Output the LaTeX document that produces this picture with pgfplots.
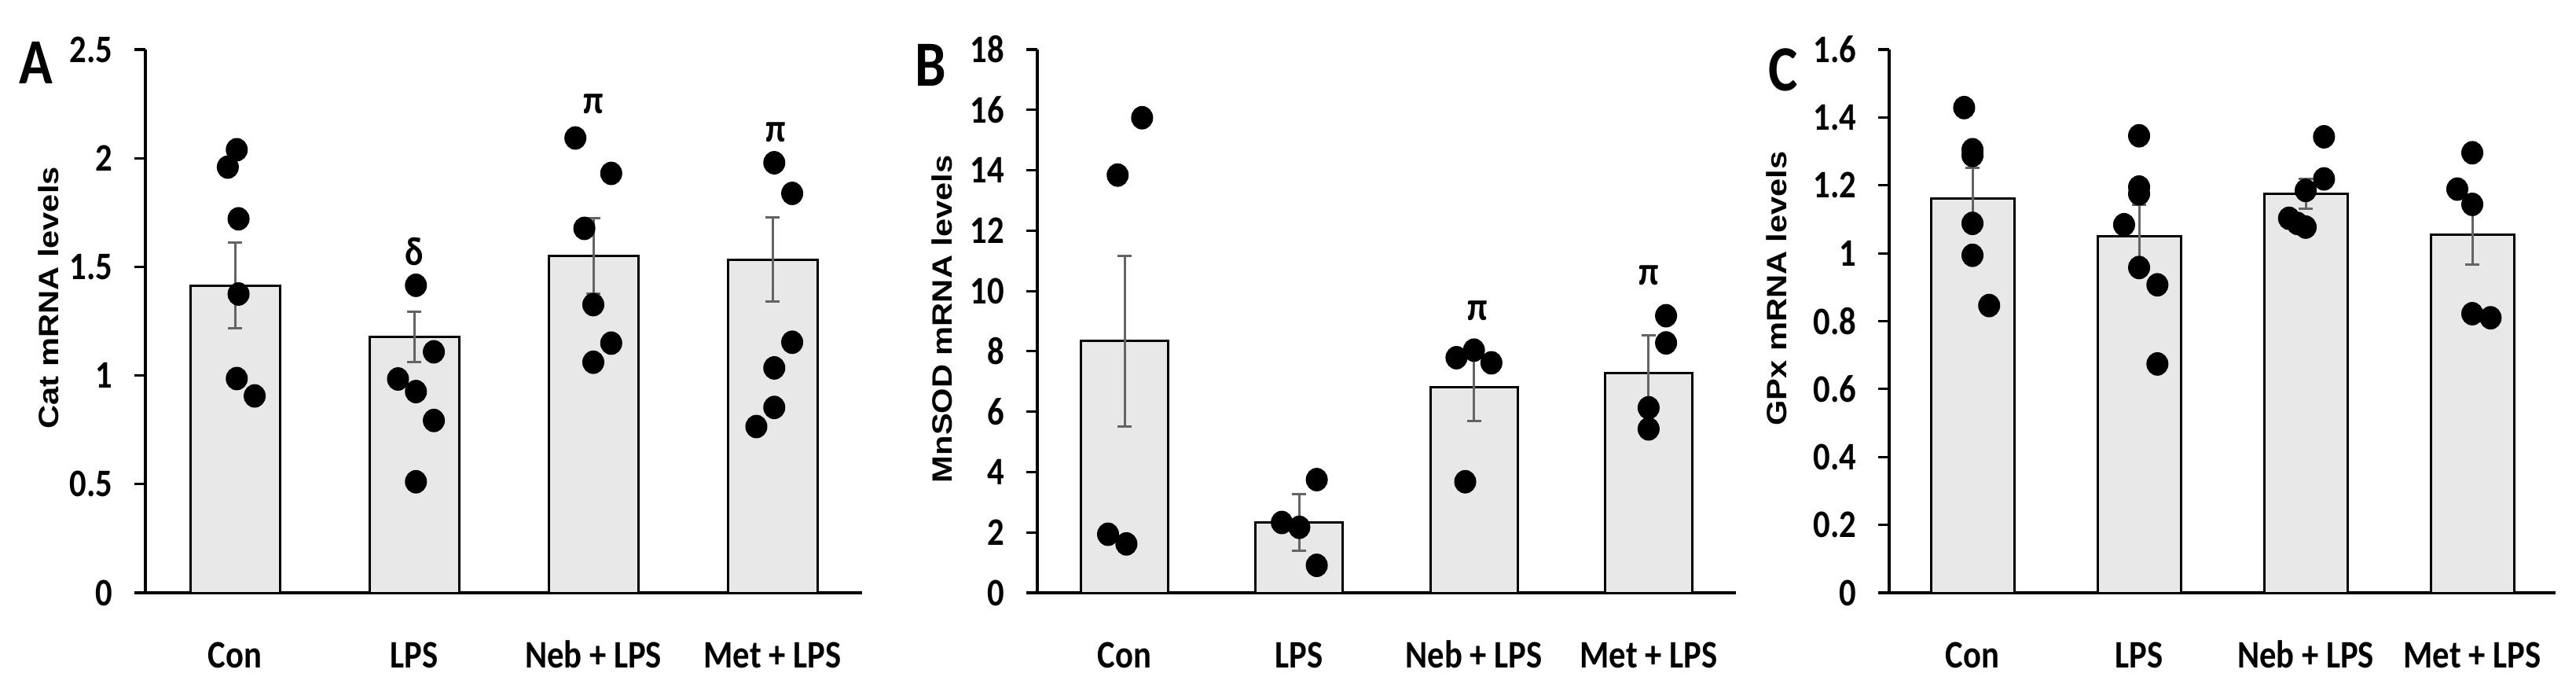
\documentclass[border=0pt]{standalone}
\usepackage{pgfplots}
\pgfplotsset{compat=1.18}
\usepackage{fontspec}
\setmainfont{Carlito}[FakeStretch=0.86]
\newfontfamily\labelfont{Liberation Sans}[FakeStretch=1.17]
\definecolor{barfill}{RGB}{232,232,232}
\definecolor{errgray}{RGB}{100,100,100}
\tikzset{
 ann/.style={font=\bfseries\fontsize{12.8}{13}\selectfont},
 letter/.style={font=\bfseries\fontsize{20.5}{22}\selectfont},
}
\pgfplotsset{
 panel/.style={
  scale only axis, height=172.75pt, anchor=south west,
  axis lines*=left, axis line style={line width=0.8pt, black},
  tick align=outside, major tick length=3.5pt,
  ytick style={line width=0.8pt, black},
  xtick style={draw=none},
  xtick={0,1,2,3}, xticklabels={Con, LPS, Neb + LPS, Met + LPS},
  xmin=-0.5, xmax=3.5, ymin=0,
  tick label style={font=\bfseries\fontsize{12.4}{13}\selectfont},
  /pgf/number format/assume math mode=true,
  xticklabel style={anchor=base, yshift=-20.25pt, inner sep=0pt},
  yticklabel style={anchor=east, inner sep=0pt, xshift=-6.75pt},
  ylabel style={anchor=center, font=\labelfont\bfseries\fontsize{8.9}{10}\selectfont},
  clip=false,
 },
 mybars/.style={ybar, bar width=0.5, fill=barfill, draw=black, line width=0.75pt,
   error bars/.cd, y dir=both, y explicit,
   error bar style={errgray, line width=0.75pt},
   error mark=-,
   error mark options={errgray, rotate=90, mark size=2.25pt, line width=0.75pt}},
 mydots/.style={only marks, mark=*, mark size=3.3pt, black, mark options={fill=black, draw=black, yscale=1.07}},
}
\begin{document}
\begin{tikzpicture}
\useasboundingbox (0,0) rectangle (819.5pt,217.25pt);
% Panel A
\begin{axis}[panel, at={(46.25pt,28.75pt)}, width=228pt, ymax=2.5,
  ytick={0,0.5,1,1.5,2,2.5},
  ylabel={Cat mRNA levels}, ylabel style={at={(axis description cs:-0.135,0.543)}}]
\addplot[mybars] coordinates {(0,1.413) +- (0,0.197) (1,1.178) +- (0,0.115) (2,1.55) +- (0,0.175) (3,1.534) +- (0,0.195)};
\addplot[mydots] coordinates {
 (0.01,2.039) (-0.04,1.959) (0.02,1.721) (0.02,1.375) (0.01,0.986) (0.11,0.906)
 (1.01,1.415) (1.11,1.109) (0.91,0.984) (1.01,0.926) (1.11,0.793) (1.01,0.511)
 (1.90,2.093) (2.10,1.930) (1.95,1.677) (2.00,1.326) (2.10,1.149) (2.00,1.061)
 (3.01,1.979) (3.11,1.838) (3.11,1.153) (3.01,1.035) (3.01,0.853) (2.91,0.765)};
\node[ann] at (axis cs:1,1.57) {δ};
\node[ann] at (axis cs:2,2.25) {π};
\node[ann] at (axis cs:3.02,2.12) {π};
\end{axis}
% Panel B
\begin{axis}[panel, at={(330pt,28.75pt)}, width=222.25pt, ymax=18,
  ytick={0,2,4,6,8,10,12,14,16,18},
  ylabel={MnSOD mRNA levels}, ylabel style={at={(axis description cs:-0.136,0.504)}}]
\addplot[mybars] coordinates {(0,8.34) +- (0,2.82) (1,2.33) +- (0,0.93) (2,6.82) +- (0,1.12) (3,7.28) +- (0,1.25)};
\addplot[mydots] coordinates {
 (0.10,15.74) (-0.04,13.84) (-0.095,1.94) (0.01,1.62)
 (1.10,3.75) (0.90,2.33) (1.00,2.17) (1.10,0.91)
 (2.00,8.04) (1.90,7.79) (2.10,7.62) (1.95,3.68)
 (3.10,9.18) (3.10,8.28) (3.00,6.13) (3.00,5.43)};
\node[ann] at (axis cs:2.02,9.34) {π};
\node[ann] at (axis cs:3.0,10.53) {π};
\end{axis}
% Panel C
\begin{axis}[panel, at={(601pt,28.75pt)}, width=212pt, ymax=1.6,
  ytick={0,0.2,0.4,0.6,0.8,1,1.2,1.4,1.6},
  ylabel={GPx mRNA levels}, ylabel style={at={(axis description cs:-0.169,0.56)}}]
\addplot[mybars] coordinates {(0,1.161) +- (0,0.09) (1,1.050) +- (0,0.092) (2,1.175) +- (0,0.043) (3,1.055) +- (0,0.088)};
\addplot[mydots] coordinates {
 (-0.05,1.429) (0,1.305) (0,1.288) (0,1.088) (0,0.994) (0.10,0.846)
 (1.0,1.346) (1.0,1.195) (1.0,1.175) (0.91,1.084) (1.0,0.958) (1.11,0.907) (1.11,0.674)
 (2.11,1.343) (2.11,1.219) (2.0,1.185) (1.90,1.103) (1.95,1.088) (2.0,1.077)
 (3.0,1.296) (2.91,1.189) (3.0,1.144) (3.0,0.822) (3.11,0.810)};
\end{axis}
\node[letter] at (11.5pt,197.25pt) {A};
\node[letter] at (296pt,196.5pt) {B};
\node[letter] at (567.25pt,195pt) {C};
\end{tikzpicture}
\end{document}
